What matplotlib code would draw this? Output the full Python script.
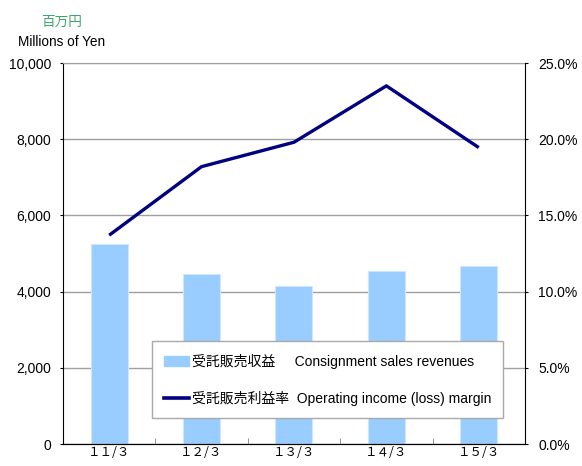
import numpy as np
import matplotlib
matplotlib.use("Agg")
from matplotlib import pyplot as plt
from matplotlib.lines import Line2D
from matplotlib.patches import Patch
from matplotlib.ticker import FuncFormatter, MultipleLocator

plt.rcParams['font.family'] = ['Liberation Sans', 'Noto Sans CJK JP', 'DejaVu Sans']

# dados
anos = ["１１/３", "１２/３", "１３/３", "１４/３", "１５/３"]
receitas = [5240, 4475, 4135, 4535, 4685]       # 受託販売収益 (百万円)
margem = [13.7, 18.2, 19.8, 23.5, 19.45]         # 受託販売利益率 (%)

fig = plt.figure(figsize=(5.82, 4.66), dpi=100)
ax = fig.add_axes([0.1082, 0.0472, 0.7938, 0.8176])
x = np.arange(len(anos))

ax.bar(x, receitas, width=0.4, color='#99ccff', edgecolor='#cfe6ff', linewidth=0.8, zorder=2)
ax.set_xlim(-0.5, len(anos) - 0.5)
ax.set_ylim(0, 10000)
ax.yaxis.set_major_locator(MultipleLocator(2000))
ax.yaxis.set_major_formatter(FuncFormatter(lambda v, p: f"{v:,.0f}"))
ax.grid(axis='y', color='#a0a0a0', linewidth=1.0, zorder=0)
ax.set_axisbelow(True)

ax.set_xticks(x)
ax.set_xticklabels(anos, fontsize=9, family=['Noto Sans CJK JP'])
ax.set_xticks(np.arange(0.5, len(anos) - 1, 1), minor=True)
ax.tick_params(axis='x', which='major', length=0, pad=1.5)
ax.tick_params(axis='x', which='minor', direction='in', length=4, color='#808080')
ax.tick_params(axis='y', direction='out', length=2.5, pad=6, labelsize=10)

ax.spines['top'].set_color('#a0a0a0')
ax.spines['right'].set_visible(False)

ax2 = ax.twinx()
ax2.plot(x, margem, color='#000080', linewidth=2.4, solid_capstyle='butt', zorder=3)
ax2.set_ylim(0, 25)
ax2.yaxis.set_major_locator(MultipleLocator(5))
ax2.yaxis.set_major_formatter(FuncFormatter(lambda v, p: f"{v:.1f}%"))
ax2.tick_params(axis='y', direction='out', length=2.5, pad=7, labelsize=10)
ax2.spines['top'].set_visible(False)
ax2.spines['left'].set_visible(False)

# unidade
fig.text(62 / 582, 1 - 22 / 466, "百万円", color='#3aa86b', fontsize=9.8,
         ha='center', va='center', family=['Noto Sans CJK JP'])
fig.text(62 / 582, 1 - 42 / 466, "Millions of Yen", fontsize=9.8, ha='center', va='center')

# legenda
handles = [Patch(facecolor='#99ccff', edgecolor='#99ccff'),
           Line2D([0], [0], color='#000080', linewidth=2.6)]
labels = ["受託販売収益     Consignment sales revenues",
          "受託販売利益率  Operating income (loss) margin"]
leg = ax2.legend(handles, labels, loc='upper left', bbox_to_anchor=(89 / 462, 103 / 381),
                 fontsize=10, frameon=True, fancybox=False, framealpha=1,
                 edgecolor='#aaaaaa', handlelength=1.75, handletextpad=0.2,
                 labelspacing=1.6, borderpad=0.9, borderaxespad=0)
leg.get_frame().set_linewidth(1.0)

fig.savefig("out.png", dpi=100)
